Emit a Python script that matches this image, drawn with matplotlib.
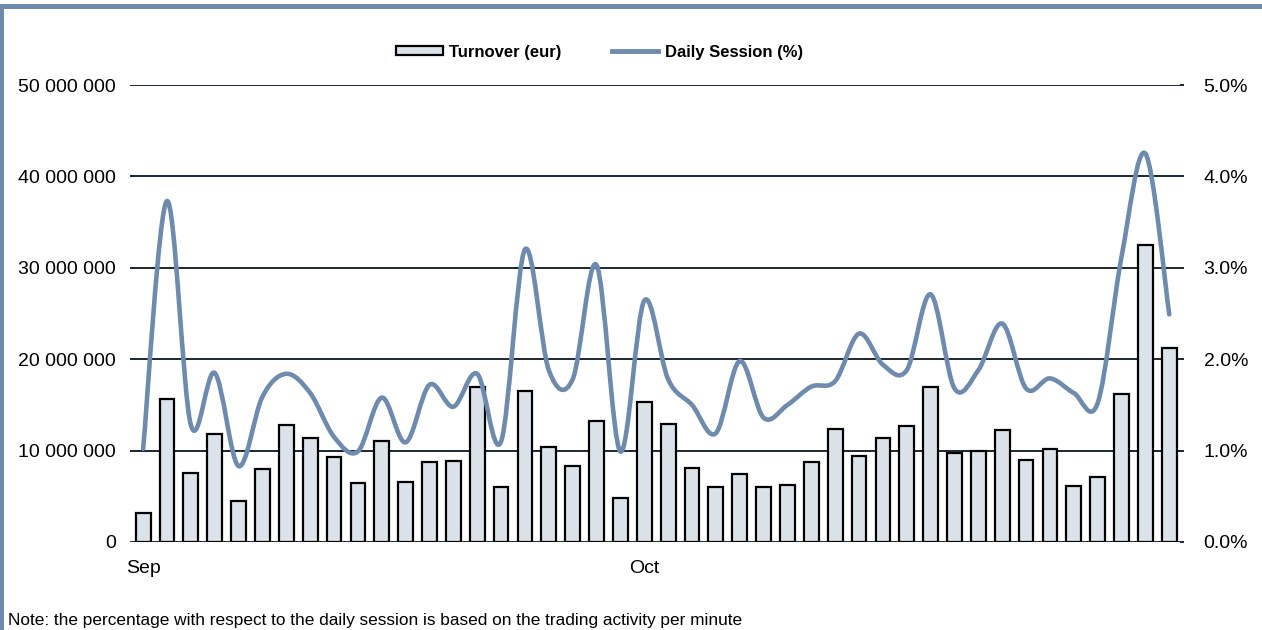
import numpy as np
import matplotlib
matplotlib.use("Agg")
from matplotlib import pyplot as plt
from matplotlib.path import Path
from matplotlib.patches import PathPatch, Rectangle, Patch
from matplotlib.lines import Line2D
from matplotlib.ticker import FuncFormatter, MultipleLocator

plt.rcParams['font.family'] = ['Liberation Sans', 'DejaVu Sans']

# trading days: Sep (21 sessions) then Oct (23 sessions)
month_labels = ['Sep', 'Oct']
month_start = [0, 21]

turnover = [3.2, 15.6, 7.6, 11.8, 4.5, 8.0, 12.75, 11.4, 9.3, 6.5,
            11.0, 6.6, 8.7, 8.9, 17.0, 6.0, 16.5, 10.4, 8.3, 13.2,
            4.8, 15.3, 12.9, 8.1, 6.0, 7.4, 6.0, 6.2, 8.7, 12.4,
            9.4, 11.4, 12.65, 16.95, 9.7, 10.0, 12.3, 9.0, 10.2, 6.15,
            7.1, 16.2, 32.5, 21.2]  # millions of eur

session_pct = [1.02, 3.73, 1.28, 1.85, 0.83, 1.59, 1.84, 1.63, 1.15, 0.99,
               1.58, 1.09, 1.72, 1.48, 1.84, 1.10, 3.20, 1.88, 1.78, 3.03,
               0.99, 2.64, 1.78, 1.50, 1.19, 1.98, 1.36, 1.50, 1.70, 1.76,
               2.28, 1.94, 1.88, 2.71, 1.68, 1.88, 2.39, 1.68, 1.79, 1.63,
               1.52, 3.12, 4.25, 2.49]

LINE_C = '#6e8bae'
BAR_C = '#dbe3ea'
GRID_C = '#1c2633'


""" excel-like smoothed line as bezier path """
def smooth_path(x, y):
    n = len(x)
    verts = [(x[0], y[0])]
    codes = [Path.MOVETO]
    for i in range(n - 1):
        xa, ya = (x[i-1], y[i-1]) if i > 0 else (x[i], y[i])
        xd, yd = (x[i+2], y[i+2]) if i + 2 < n else (x[i+1], y[i+1])
        c1 = (x[i] + (x[i+1] - xa) / 6., y[i] + (y[i+1] - ya) / 6.)
        c2 = (x[i+1] - (xd - x[i]) / 6., y[i+1] - (yd - y[i]) / 6.)
        verts += [c1, c2, (x[i+1], y[i+1])]
        codes += [Path.CURVE4] * 3
    return Path(verts, codes)


fig = plt.figure(figsize=(12.62, 6.3), dpi=100)
ax = fig.add_axes([130/1262, 1 - 542/630, 1050/1262, 457/630])
ax2 = ax.twinx()

xs = np.arange(len(turnover))
vals = np.array(turnover) * 1e6
ax.bar(xs, vals, width=0.62, color=BAR_C, edgecolor='black', linewidth=1.6, zorder=3)

ax.set_xlim(-0.55, len(xs) - 0.55)
ax.set_ylim(0, 50e6)
ax.yaxis.set_major_locator(MultipleLocator(10e6))
ax.yaxis.set_major_formatter(FuncFormatter(lambda v, p: f"{int(v):,}".replace(",", " ")))
ax.grid(axis='y', color=GRID_C, linewidth=1.4, zorder=0)
ax.set_axisbelow(True)
ax.set_xticks(month_start)
ax.set_xticklabels(month_labels)
ax.tick_params(axis='x', length=0, pad=13, labelsize=14)
ax.tick_params(axis='y', length=0, pad=10, labelsize=14)

ax2.set_ylim(0, 5)
ax2.yaxis.set_major_locator(MultipleLocator(1))
ax2.yaxis.set_major_formatter(FuncFormatter(lambda v, p: "%.1f%%" % v))
ax2.tick_params(axis='y', length=3, width=1.4, color=GRID_C, pad=14, labelsize=14)
ax2.add_patch(PathPatch(smooth_path(xs, session_pct), facecolor='none', edgecolor=LINE_C,
                        linewidth=3.3, capstyle='round', joinstyle='round'))

for a in (ax, ax2):
    for s in a.spines.values():
        s.set_visible(False)

handles = [Patch(facecolor=BAR_C, edgecolor='black', linewidth=1.6),
           Line2D([], [], color=LINE_C, linewidth=3.5)]
fig.legend(handles, ['Turnover (eur)', 'Daily Session (%)'], loc='center',
           bbox_to_anchor=(0.475, 1 - 52/630), ncol=2, frameon=False,
           prop={'weight': 'bold', 'size': 12}, handlelength=2.8, handleheight=0.5,
           handletextpad=0.4, columnspacing=3.0)

fig.text(8/1262, 1 - 620/630, "Note: the percentage with respect to the daily session is based on the trading activity per minute",
         fontsize=12.4, va='center', ha='left')

# frame bars on top and left
fig.patches.append(Rectangle((0, 1 - 9/630), 1, 5/630, transform=fig.transFigure,
                             facecolor=LINE_C, edgecolor='none'))
fig.patches.append(Rectangle((0, 0), 4/1262, 1 - 4/630, transform=fig.transFigure,
                             facecolor=LINE_C, edgecolor='none'))

fig.savefig("out.png", dpi=100)
